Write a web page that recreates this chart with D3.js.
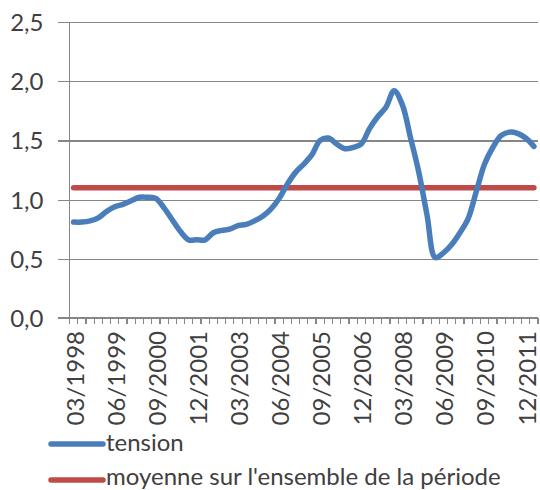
<!DOCTYPE html>
<html>
<head>
<meta charset="utf-8">
<script src="https://cdn.jsdelivr.net/npm/d3@7"></script>
<style>
  html, body { margin: 0; padding: 0; background: #fff; }
  svg { display: block; }
  text { font-family: Lato, "Open Sans", sans-serif; fill: #404040; }
</style>
</head>
<body>
<svg id="chart" width="540" height="490"></svg>
<script>
const categories = [
  "03/1998","06/1998","09/1998","12/1998",
  "03/1999","06/1999","09/1999","12/1999",
  "03/2000","06/2000","09/2000","12/2000",
  "03/2001","06/2001","09/2001","12/2001",
  "03/2002","06/2002","09/2002","12/2002",
  "03/2003","06/2003","09/2003","12/2003",
  "03/2004","06/2004","09/2004","12/2004",
  "03/2005","06/2005","09/2005","12/2005",
  "03/2006","06/2006","09/2006","12/2006",
  "03/2007","06/2007","09/2007","12/2007",
  "03/2008","06/2008","09/2008","12/2008",
  "03/2009","06/2009","09/2009","12/2009",
  "03/2010","06/2010","09/2010","12/2010",
  "03/2011","06/2011","09/2011","12/2011",
  "03/2012"
];
const tension = [
  0.81, 0.81, 0.82, 0.845,
  0.90, 0.94, 0.96, 0.99,
  1.02, 1.02, 1.01, 0.93,
  0.83, 0.73, 0.66, 0.66,
  0.66, 0.72, 0.74, 0.75,
  0.78, 0.79, 0.82, 0.86,
  0.92, 1.01, 1.13, 1.23,
  1.30, 1.38, 1.50, 1.52,
  1.47, 1.43, 1.44, 1.47,
  1.60, 1.70, 1.78, 1.92,
  1.80, 1.52, 1.23, 0.87,
  0.51, 0.55, 0.62, 0.72,
  0.84, 1.07, 1.30, 1.44,
  1.54, 1.57, 1.56, 1.52,
  1.45
];
const meanValue = 1.10;
const yTicks = [0, 0.5, 1.0, 1.5, 2.0, 2.5];
const legendLabels = ["tension", "moyenne sur l'ensemble de la période"];
const colors = { tension: "#4A7EBB", mean: "#BE4B48", axis: "#868686" };

const svg = d3.select("#chart");
const pLeft = 69.5, pRight = 538, pTop = 22, pBottom = 318;
const fontSize = "24px";

const x = d3.scaleBand().domain(categories).range([pLeft, pRight]).padding(0);
const y = d3.scaleLinear().domain([0, 2.5]).range([pBottom, pTop]);
const fmt = v => d3.format(".1f")(v).replace(".", ",");

// gridlines + y labels
const yAxis = d3.axisLeft(y).tickValues(yTicks).tickSize(-(pRight - pLeft)).tickFormat(fmt).tickPadding(0);
const gy = svg.append("g").attr("transform", `translate(${pLeft},0)`).call(yAxis);
gy.select(".domain").remove();
gy.selectAll(".tick line")
  .attr("x1", -11.5)
  .attr("stroke", colors.axis)
  .attr("stroke-width", 1.2)
  .attr("shape-rendering", "crispEdges");
gy.selectAll(".tick text")
  .attr("x", -26)
  .attr("dy", "0.35em")
  .style("font-size", fontSize)
  .style("font-family", "Lato, sans-serif")
  .attr("fill", "#404040");

// vertical axis line
svg.append("line")
  .attr("x1", pLeft).attr("x2", pLeft).attr("y1", pTop).attr("y2", pBottom)
  .attr("stroke", colors.axis).attr("stroke-width", 1.2).attr("shape-rendering", "crispEdges");

// x axis
const boundaries = categories.map(c => x(c)).concat([pRight]);
const gx = svg.append("g");
gx.append("line")
  .attr("x1", 58).attr("x2", pRight).attr("y1", pBottom).attr("y2", pBottom)
  .attr("stroke", colors.axis).attr("stroke-width", 1.2).attr("shape-rendering", "crispEdges");
gx.selectAll("line.tk").data(boundaries).join("line")
  .attr("class", "tk")
  .attr("x1", d => d).attr("x2", d => d)
  .attr("y1", pBottom).attr("y2", pBottom + 6)
  .attr("stroke", colors.axis).attr("stroke-width", 1.2).attr("shape-rendering", "crispEdges");
const xLabelCats = categories.filter((c, i) => i % 5 === 0);
gx.selectAll("text.xl").data(xLabelCats).join("text")
  .attr("class", "xl")
  .attr("transform", d => `translate(${x(d) + x.bandwidth() / 2 + 1.5},${pBottom + 13}) rotate(-90)`)
  .attr("text-anchor", "end")
  .attr("dy", "0.35em")
  .style("font-size", fontSize)
  .text(d => d);

// mean line
const cx = c => x(c) + x.bandwidth() / 2;
const meanLine = d3.line().x(d => cx(d)).y(() => y(meanValue));
svg.append("path")
  .datum(categories)
  .attr("d", meanLine)
  .attr("fill", "none")
  .attr("stroke", colors.mean)
  .attr("stroke-width", 5.5)
  .attr("stroke-linecap", "round");

// tension line
const line = d3.line()
  .x((d, i) => cx(categories[i]))
  .y(d => y(d))
  .curve(d3.curveCatmullRom.alpha(0.5));
svg.append("path")
  .datum(tension)
  .attr("d", line)
  .attr("fill", "none")
  .attr("stroke", colors.tension)
  .attr("stroke-width", 5.5)
  .attr("stroke-linecap", "round")
  .attr("stroke-linejoin", "round");

// legend
const legend = svg.append("g");
const legendItems = [
  { label: legendLabels[0], color: colors.tension, ly: 444, ty: 451 },
  { label: legendLabels[1], color: colors.mean, ly: 480, ty: 485 }
];
legendItems.forEach(it => {
  legend.append("line")
    .attr("x1", 51).attr("x2", 103).attr("y1", it.ly).attr("y2", it.ly)
    .attr("stroke", it.color).attr("stroke-width", 5.5).attr("stroke-linecap", "round");
  legend.append("text")
    .attr("x", 106).attr("y", it.ty)
    .style("font-size", fontSize)
    .text(it.label);
});
</script>
</body>
</html>
